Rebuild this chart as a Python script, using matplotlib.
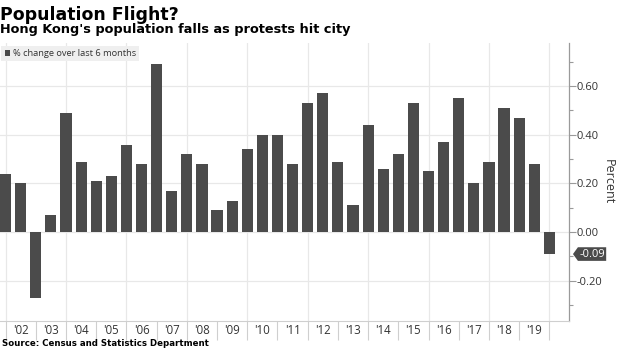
import numpy             as np
import matplotlib
matplotlib.use('Agg')
import matplotlib.pyplot as plt
from matplotlib.ticker import FixedLocator, FuncFormatter
from matplotlib.path import Path
import matplotlib.transforms as mtrans


# Chart data: half-yearly % change in Hong Kong population
values = [0.24, 0.20, -0.27, 0.07, 0.49, 0.29, 0.21, 0.23, 0.36, 0.28,
          0.69, 0.17, 0.32, 0.28, 0.09, 0.13, 0.34, 0.40, 0.40, 0.28,
          0.53, 0.57, 0.29, 0.11, 0.44, 0.26, 0.32, 0.53, 0.25, 0.37,
          0.55, 0.20, 0.29, 0.51, 0.47, 0.28, -0.09]
year_labels = ["'02", "'03", "'04", "'05", "'06", "'07", "'08", "'09", "'10",
               "'11", "'12", "'13", "'14", "'15", "'16", "'17", "'18", "'19"]
y_ticks     = [-0.20, 0.00, 0.20, 0.40, 0.60]
series_name = '% change over last 6 months'
last_label  = '-0.09'

# Styling
bar_color  = '#4b4b4b'
grid_color = '#e8e8e8'
axis_color = '#9a9a9a'
text_color = '#333333'
tick_font  = 'Open Sans'


def tag_box(x0, y0, width, height, mutation_size):
    """Rectangle with a pointed left end (value tag on the axis)"""
    pad = height * 0.12
    tip = height * 0.45
    x0, y0 = x0 - pad, y0 - pad
    width, height = width + 2 * pad, height + 2 * pad
    verts = [(x0 - tip, y0 + height / 2), (x0, y0), (x0 + width, y0),
             (x0 + width, y0 + height), (x0, y0 + height),
             (x0 - tip, y0 + height / 2)]
    codes = [Path.MOVETO] + [Path.LINETO] * 4 + [Path.CLOSEPOLY]
    return Path(verts, codes)


fig = plt.figure(figsize=(6.2, 3.48), dpi=100)
ax  = fig.add_axes([0.0, 27 / 348, 569 / 620, 278 / 348])

x = np.arange(len(values))
ax.bar(x, values, width=0.74, color=bar_color, label=series_name, zorder=3)

ax.set_xlim(-0.37, 37.3)
ax.set_ylim(-0.365, 0.777)

#   Grid
ax.set_yticks(y_ticks)
ax.yaxis.set_minor_locator(FixedLocator(np.arange(-0.3, 0.75, 0.1)))
for yv in y_ticks:
    ax.axhline(yv, color=grid_color, lw=0.9, zorder=1)
for xv in x[::4]:
    ax.axvline(xv, color=grid_color, lw=0.9, zorder=1)

#   Right y axis
ax.yaxis.tick_right()
ax.yaxis.set_major_formatter(FuncFormatter(lambda v, p: '{:.2f}'.format(v)))
ax.tick_params(axis='y', which='major', length=5, width=0.8, color=axis_color,
               pad=0.5, labelsize=8, labelcolor=text_color)
ax.tick_params(axis='y', which='minor', length=3, width=0.8, color=axis_color)
for lab in ax.get_yticklabels():
    lab.set_fontfamily(tick_font)
ax.yaxis.set_label_position('right')
ax.set_ylabel('Percent', rotation=270, fontsize=9, color=text_color,
              family=tick_font, labelpad=9)

#   X axis: separators at year boundaries, labels in between
ax.set_xticks(x[::2])
ax.set_xticklabels([])
ax.set_xticks(x[1::2], minor=True)
ax.set_xticklabels(year_labels, minor=True)
ax.tick_params(axis='x', which='major', length=14, width=0.8, color='#cfcfcf')
ax.tick_params(axis='x', which='minor', length=0, pad=2, labelsize=8.3,
               labelcolor=text_color)
for lab in ax.get_xticklabels(minor=True):
    lab.set_fontfamily(tick_font)

for side in ['top', 'left']:
    ax.spines[side].set_visible(False)
ax.spines['right'].set_color(axis_color)
ax.spines['bottom'].set_color('#cfcfcf')
ax.spines['right'].set_linewidth(0.9)
ax.spines['bottom'].set_linewidth(0.8)

#   Legend
leg = ax.legend(loc='upper left', bbox_to_anchor=(0.0, 0.995), frameon=True,
                fancybox=False, handlelength=0.6, handleheight=0.6,
                handletextpad=0.3, borderpad=0.35, borderaxespad=0.15,
                prop={'family': tick_font, 'size': 6.7})
leg.get_frame().set_facecolor('#efefef')
leg.get_frame().set_edgecolor('none')
leg.get_frame().set_alpha(1)
for t in leg.get_texts():
    t.set_color(text_color)

#   Last value tag
trans = mtrans.blended_transform_factory(ax.transAxes, ax.transData)
ax.text(1.018, values[-1], last_label, transform=trans, ha='left', va='center',
        color='white', fontsize=8, family=tick_font, clip_on=False,
        bbox=dict(boxstyle=tag_box, fc=bar_color, ec='none'))

#   Titles and source
fig.text(0.0, 1 - 19.5 / 348, 'Population Flight?', fontsize=12.5,
         fontweight='bold', va='baseline', ha='left', color='black')
fig.text(0.0, 1 - 33 / 348, "Hong Kong's population falls as protests hit city",
         fontsize=9.3, fontweight='bold', va='baseline', ha='left', color='black')
fig.text(0.003, 1 - 346 / 348, 'Source: Census and Statistics Department',
         fontsize=6.2, fontweight='bold', va='baseline', ha='left', color='black')

fig.savefig('out.png', dpi=100)
